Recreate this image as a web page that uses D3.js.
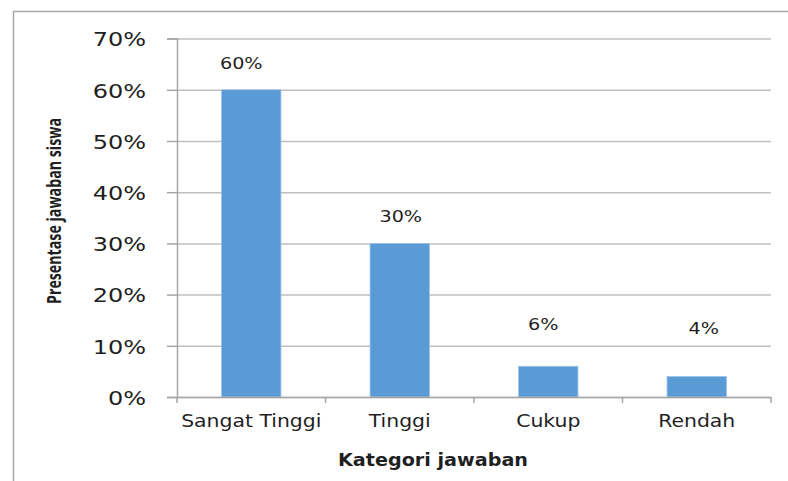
<!DOCTYPE html>
<html>
<head>
<meta charset="utf-8">
<script src="https://cdn.jsdelivr.net/npm/d3@7"></script>
<style>
  body { margin: 0; background: #fff; }
  text { fill: #1f1f1f; font-family: "DejaVu Sans", Verdana, sans-serif; }
  .gridline line { stroke: #bfbfbf; stroke-width: 1.5; }
  .gridline .domain { display: none; }
  .axis path, .axis line { stroke: #a6a6a6; stroke-width: 1.5; }
</style>
</head>
<body>
<div class="plot-item"></div>
<script>
var categories = ["Sangat Tinggi", "Tinggi", "Cukup", "Rendah"];
var values = [0.60, 0.30, 0.06, 0.04];
var yTicks = [0, 0.1, 0.2, 0.3, 0.4, 0.5, 0.6, 0.7];
var labelTexts = ["60%", "30%", "6%", "4%"];

// label nudges (px) as they were placed in the original
var labelDx = [-10, 1, -5, 7];
var labelGap = [21, 21, 36, 43];

var w = 788;
var h = 481;
var margin = { top: 38.6, left: 177, right: 17, bottom: 84 };
var width = w - margin.left - margin.right;
var height = h - margin.top - margin.bottom;
var sx = 1.2; // the picture is slightly stretched sideways

var svg = d3.select(".plot-item").append("svg")
  .attr("width", w)
  .attr("height", h);

// outer chart frame
svg.append("path")
  .attr("d", "M13.5," + h + "V11.5H" + w)
  .attr("fill", "none")
  .attr("stroke", "#a6a6a6")
  .attr("stroke-width", 1.5);

var chart = svg.append("g")
  .attr("transform", "translate(" + margin.left + "," + margin.top + ")");

var x = d3.scaleBand()
  .domain(categories)
  .range([0, width])
  .paddingInner(0.6)
  .paddingOuter(0.3);

var y = d3.scaleLinear()
  .domain([0, 0.7])
  .range([height, 0]);

// gridlines
chart.append("g")
  .classed("gridline", true)
  .call(d3.axisLeft(y).tickValues(yTicks).tickSize(-width).tickFormat(""));

// y axis
var yAxis = chart.append("g")
  .classed("axis y", true)
  .call(d3.axisLeft(y).tickValues(yTicks).tickSize(10).tickFormat(d3.format(".0%")));
yAxis.selectAll("text")
  .attr("x", -31 / sx)
  .attr("dy", "0.36em")
  .attr("transform", "scale(" + sx + ",1)")
  .style("font-size", "20px")
  .style("fill", "#1f1f1f");

// bars
chart.selectAll(".bar")
  .data(values)
  .enter()
  .append("rect")
  .classed("bar", true)
  .attr("x", function(d, i) { return x(categories[i]); })
  .attr("width", x.bandwidth())
  .attr("y", function(d) { return y(d); })
  .attr("height", function(d) { return height - y(d); })
  .attr("fill", "#5b9bd5")
  .attr("stroke", "#9cc3ea")
  .attr("stroke-width", 0.8);

// x axis: line, boundary ticks, labels
var xg = chart.append("g")
  .classed("axis x", true)
  .attr("transform", "translate(0," + height + ")");
var half = (x.step() - x.bandwidth()) / 2;
var bounds = categories.map(function(c) { return x(c) - half; });
bounds.push(x(categories[categories.length - 1]) + x.bandwidth() + half);
xg.append("path")
  .attr("d", "M0,0.5H" + width);
xg.selectAll(".btick")
  .data(bounds)
  .enter()
  .append("line")
  .classed("btick", true)
  .attr("x1", function(d) { return d; })
  .attr("x2", function(d) { return d; })
  .attr("y1", 0)
  .attr("y2", 6);
xg.selectAll(".cat")
  .data(categories)
  .enter()
  .append("text")
  .classed("cat", true)
  .attr("transform", function(d) {
    return "translate(" + (x(d) + x.bandwidth() / 2) + ",30) scale(1.2,1)";
  })
  .attr("text-anchor", "middle")
  .style("font-size", "17px")
  .text(function(d) { return d; });

// value labels
chart.selectAll(".vlabel")
  .data(values)
  .enter()
  .append("text")
  .classed("vlabel", true)
  .attr("transform", function(d, i) {
    var cx = x(categories[i]) + x.bandwidth() / 2 + labelDx[i];
    return "translate(" + cx + "," + (y(d) - labelGap[i]) + ") scale(" + sx + ",1)";
  })
  .attr("text-anchor", "middle")
  .style("font-size", "16px")
  .text(function(d, i) { return labelTexts[i]; });

// axis titles
svg.append("text")
  .attr("transform", "translate(433,466)")
  .attr("text-anchor", "middle")
  .attr("textLength", 190)
  .attr("lengthAdjust", "spacingAndGlyphs")
  .style("font-size", "17px")
  .style("font-weight", "bold")
  .text("Kategori jawaban");

svg.append("text")
  .attr("transform", "translate(61,211) scale(" + sx + ",1) rotate(-90)")
  .attr("text-anchor", "middle")
  .attr("textLength", 186)
  .attr("lengthAdjust", "spacingAndGlyphs")
  .style("font-family", "'Liberation Sans Narrow', 'Open Sans', sans-serif")
  .style("font-size", "17px")
  .style("font-weight", "bold")
  .text("Presentase jawaban siswa");
</script>
</body>
</html>
